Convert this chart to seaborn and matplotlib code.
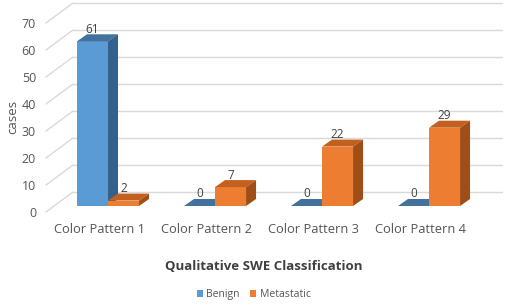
import numpy as np
import pandas as pd
import matplotlib
matplotlib.use('Agg')
import matplotlib.pyplot as plt
import matplotlib.transforms as mtransforms
from matplotlib.patches import Polygon
import seaborn as sns

# chart data
categories = ['Color Pattern 1', 'Color Pattern 2', 'Color Pattern 3', 'Color Pattern 4']
benign = [61, 0, 0, 0]
metastatic = [2, 7, 22, 29]
series = ['Benign', 'Metastatic']
y_ticks = [0, 10, 20, 30, 40, 50, 60, 70]

front_colors = {'Benign': '#5B9BD5', 'Metastatic': '#ED7D31'}
top_colors = {'Benign': '#41719C', 'Metastatic': '#C4601E'}
side_colors = {'Benign': '#34618C', 'Metastatic': '#A04E17'}
text_gray = '#555555'
grid_gray = '#D9D9D9'

df = pd.DataFrame({
    'category': categories * 2,
    'cases': benign + metastatic,
    'series': ['Benign'] * len(categories) + ['Metastatic'] * len(categories),
})

sns.set_style('white')
plt.rcParams['font.family'] = ['Open Sans', 'DejaVu Sans']

fig = plt.figure(figsize=(5.1, 3.08), dpi=100)
ax = fig.add_axes([0.0859, 0.3312, 0.9022, 0.6136])
sns.barplot(data=df, x='category', y='cases', hue='series', hue_order=series,
            palette=front_colors, width=0.58, saturation=1, linewidth=0,
            edgecolor='none', ax=ax)
ax.set_xlim(-0.6, 3.7)
ax.set_ylim(0, 70)
sns.despine(ax=ax, left=True, bottom=True)


def px(dx, dy):
    return mtransforms.ScaledTranslation(dx / 100, dy / 100, fig.dpi_scale_trans)


ident = mtransforms.IdentityTransform()
front_plane = ax.transData + px(-8, -6)
back_plane = ax.transData + px(19, 14)

# 3D-style wall gridlines
for v in y_ticks:
    ax.plot([-0.505, 3.505], [v, v], transform=back_plane, color=grid_gray,
            lw=1, clip_on=False, zorder=0)
    p1 = front_plane.transform((-0.505, v))
    p2 = back_plane.transform((-0.505, v))
    ax.plot([p1[0], p2[0]], [p1[1], p2[1]], transform=ident, color=grid_gray,
            lw=1, clip_on=False, zorder=0)

# depth faces on the bars
depth = np.array([10, 7])
for k, (cont, s) in enumerate(zip(ax.containers, series)):
    for rect in cont:
        rect.set_zorder(2 + k)
        x0, w, h = rect.get_x(), rect.get_width(), rect.get_height()
        bl = ax.transData.transform((x0, 0))
        br = ax.transData.transform((x0 + w, 0))
        tl = ax.transData.transform((x0, h))
        tr = ax.transData.transform((x0 + w, h))
        ax.add_patch(Polygon([tl, tr, tr + depth, tl + depth], closed=True,
                             transform=ident, facecolor=top_colors[s],
                             edgecolor='none', clip_on=False, zorder=2 + k))
        ax.add_patch(Polygon([br, tr, tr + depth, br + depth], closed=True,
                             transform=ident, facecolor=side_colors[s],
                             edgecolor='none', clip_on=False, zorder=2 + k))
    ax.bar_label(cont, padding=4, fontsize=8.5, color='#404040')

# axes text
ax.set_yticks(y_ticks)
ax.tick_params(axis='both', length=0, labelsize=9, labelcolor=text_gray)
ax.tick_params(axis='y', pad=5.6)
ax.tick_params(axis='x', pad=12, labelsize=9.3)
for lab in ax.get_yticklabels():
    lab.set_transform(lab.get_transform() + px(0, -6))
for lab in ax.get_xticklabels():
    lab.set_transform(lab.get_transform() + px(-9, 0))

ax.set_xlabel('Qualitative SWE Classification', fontsize=9.5, fontweight='bold',
              color='#404040')
ax.xaxis.set_label_coords(0.4786, -0.288)
ax.set_ylabel('cases', fontsize=9.5, color=text_gray)
ax.yaxis.set_label_coords(-0.054, 0.471)

sns.move_legend(ax, 'center', bbox_to_anchor=(0.456, -0.47), ncol=2,
                frameon=False, title=None, fontsize=7.5, handlelength=0.6,
                handleheight=0.6, columnspacing=1.0, handletextpad=0.3,
                labelcolor=text_gray)

fig.savefig('out.png', dpi=100)
